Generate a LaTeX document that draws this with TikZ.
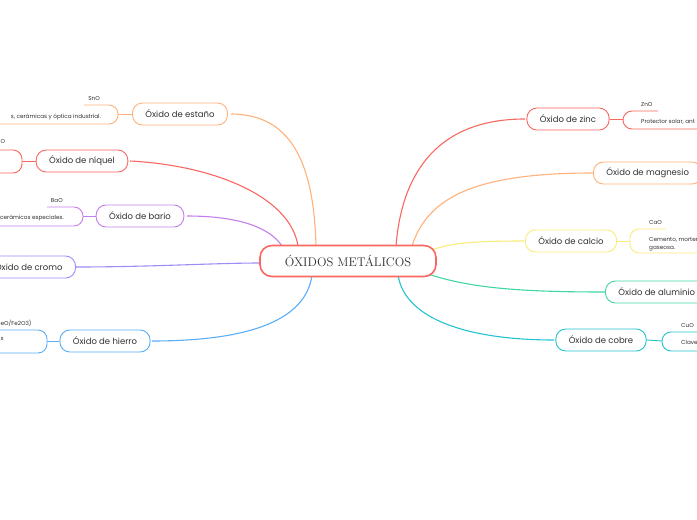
\documentclass[tikz,border=0pt]{standalone}
\usepackage{fontspec}
\newfontfamily\kidfont{Poppins}
\definecolor{ink}{RGB}{50,50,50}
\definecolor{mred}{RGB}{249,104,96}
\definecolor{morange}{RGB}{255,178,122}
\definecolor{mpurple}{RGB}{196,126,235}
\definecolor{mlav}{RGB}{155,143,247}
\definecolor{mblue}{RGB}{90,174,246}
\definecolor{myellow}{RGB}{250,236,122}
\definecolor{mgreen}{RGB}{63,216,160}
\definecolor{mcyan}{RGB}{34,196,208}

\begin{document}
\begin{tikzpicture}[x=1pt,y=-1pt,
    topic/.style={draw,rounded corners=10pt,line width=0.9pt,fill=white,text=ink,
      font=\kidfont\fontsize{8.5}{10}\selectfont,minimum height=22pt,inner xsep=13pt},
    root/.style={draw=mred,rounded corners=12pt,line width=1.6pt,fill=white,text=ink,
      font=\fontsize{12.5}{14}\selectfont,minimum width=176pt,minimum height=31pt},
    tiny/.style={font=\kidfont\fontsize{5.7}{8}\selectfont,text=ink,inner sep=0pt,align=left},
    link/.style={line width=1.1pt},
    bracket/.style={line width=0.9pt,rounded corners=9pt}]
        \useasboundingbox (0,0) rectangle (697,520);
        \fill[white] (0,0) rectangle (697,520);
        \clip (0,0) rectangle (697,520);

        \draw[link,morange] (231,114) .. controls (295,114) and (314,170) .. (316,246);
        \draw[link,mred] (130,161) .. controls (210,165) and (290,195) .. (298,246);
        \draw[link,mpurple] (187,216) .. controls (240,216) and (270,228) .. (282,246);
        \draw[link,mlav] (76,267) .. controls (150,267) and (215,263) .. (261,263);
        \draw[link,mblue] (152,341) .. controls (280,341) and (308,305) .. (312,275);
        \draw[link,mred] (525,119) .. controls (440,119) and (402,170) .. (396,246);
        \draw[link,morange] (593,173) .. controls (480,173) and (428,195) .. (412,246);
        \draw[link,myellow] (524,241) .. controls (475,241) and (450,243) .. (432,250);
        \draw[link,mgreen] (605,292) .. controls (520,292) and (470,288) .. (428,274);
        \draw[link,mcyan] (554,340) .. controls (470,340) and (405,320) .. (398,275);

        \draw (348,261) node[root] (oxidos) {ÓXIDOS METÁLICOS};

        \draw (180,114) node[topic,draw=morange] (estano) {Óxido de estaño};
        \draw (82,161) node[topic,draw=mred] (niquel) {Óxido de níquel};
        \draw (140,216) node[topic,draw=mpurple] (bario) {Óxido de bario};
        \draw (76,267) node[topic,draw=mlav,anchor=east] (cromo) {Óxido de cromo};
        \draw (105,341) node[topic,draw=mblue] (hierro) {Óxido de hierro};
        \draw (568,119) node[topic,draw=mred] (zinc) {Óxido de zinc};
        \draw (593,173) node[topic,draw=morange,anchor=west] (magnesio) {Óxido de magnesio};
        \draw (571,241) node[topic,draw=myellow] (calcio) {Óxido de calcio};
        \draw (605,292) node[topic,draw=mgreen,anchor=west] (aluminio) {Óxido de aluminio};
        \draw (601,340) node[topic,draw=mcyan] (cobre) {Óxido de cobre};

        \draw[bracket,morange] (84,105) -- (118,105) -- (118,124) -- (-20,124);
        \coordinate (snoend) at (118,114);
        \draw[link,morange,line width=0.9pt] (estano.west) -- (snoend);
        \draw (100,99) node[tiny,anchor=east] (snolabel) {SnO};
        \draw (101,117) node[tiny,anchor=east] (snotext) {s, cerámicas y óptica industrial.};

        \draw[bracket,mred] (-20,150) -- (22,150) -- (22,173) -- (-20,173);
        \coordinate (nioend) at (22,161);
        \draw[link,mred,line width=0.9pt] (niquel.west) -- (nioend);
        \draw (0.5,142) node[tiny,anchor=west] (niolabel) {O};

        \draw[bracket,mpurple] (47,207) -- (83,207) -- (83,226) -- (-20,226);
        \coordinate (baoend) at (83,216);
        \draw[link,mpurple,line width=0.9pt] (bario.west) -- (baoend);
        \draw (63,201) node[tiny,anchor=east] (baolabel) {BaO};
        \draw (64,218) node[tiny,anchor=east] (baotext) {cerámicos especiales.};

        \draw[bracket,mblue] (-20,330) -- (47,330) -- (47,353) -- (-20,353);
        \coordinate (feoend) at (47,341);
        \draw[link,mblue,line width=0.9pt] (hierro.west) -- (feoend);
        \draw (0.5,323) node[tiny,anchor=west] (feolabel) {eO/Fe2O3)};
        \draw (0.5,339) node[tiny,anchor=west] (feotext) {s};

        \draw[bracket,mred] (658,111) -- (623,111) -- (623,129) -- (720,129);
        \coordinate (znoend) at (623,119);
        \draw[link,mred,line width=0.9pt] (zinc.east) -- (znoend);
        \draw (641,105) node[tiny,anchor=west] (znolabel) {ZnO};
        \draw (641,122) node[tiny,anchor=west] (znotext) {Protector solar, ant};

        \draw[bracket,myellow] (666,229) -- (630,229) -- (630,253) -- (720,253);
        \coordinate (caoend) at (630,241);
        \draw[link,myellow,line width=0.9pt] (calcio.east) -- (caoend);
        \draw (649,223) node[tiny,anchor=west] (caolabel) {CaO};
        \draw (649,244) node[tiny,anchor=west] (caotext) {Cemento, morter\\gaseosa.};

        \draw[bracket,mcyan] (720,332) -- (662,332) -- (662,351) -- (720,351);
        \coordinate (cuoend) at (662,341);
        \draw[link,mcyan,line width=0.9pt] (cobre.east) -- (cuoend);
        \draw (681,326) node[tiny,anchor=west] (cuolabel) {CuO};
        \draw (681,342) node[tiny,anchor=west] (cuotext) {Clave};
\end{tikzpicture}
\end{document}
